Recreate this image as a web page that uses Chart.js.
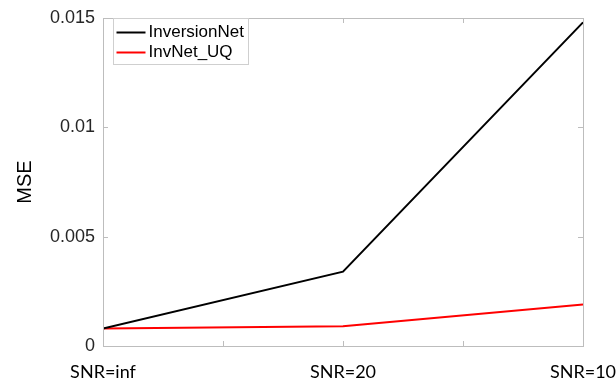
<!DOCTYPE html>
<html>
<head>
<meta charset="utf-8">
<script src="https://cdn.jsdelivr.net/npm/chart.js@4"></script>
<style>
  html, body { margin: 0; padding: 0; background: #fff; }
  #wrap { width: 616px; height: 389px; }
</style>
</head>
<body>
<div id="wrap"><canvas id="mseChart"></canvas></div>
<script>
// MSE per noise level
const snrLabels = ["SNR=inf", "SNR=20", "SNR=10"];
const inversionNet = [0.0008, 0.0034, 0.0148];
const invNetUQ = [0.0008, 0.0009, 0.0019];
const yTicks = [0, 0.005, 0.01, 0.015];

const axisGray = "#bdbdbd";
const textGray = "#262626";

function toPoints(values) {
    return values.map(function (v, i) {
        return { x: i + 1, y: v };
    });
}

// box around the plot with short inward tick marks, plus the boxed legend
const frameAndLegend = {
    id: "frameAndLegend",
    afterDatasetsDraw: function (chart) {
        const ctx = chart.ctx;
        const a = chart.chartArea;
        const xs = chart.scales.x;
        const ys = chart.scales.y;
        const tl = 5;
        ctx.save();
        ctx.strokeStyle = axisGray;
        ctx.lineWidth = 1;
        ctx.strokeRect(Math.round(a.left) + 0.5, Math.round(a.top) + 0.5,
            Math.round(a.right - a.left), Math.round(a.bottom - a.top));
        ctx.beginPath();
        xs.ticks.forEach(function (t) {
            const px = Math.round(xs.getPixelForValue(t.value)) + 0.5;
            ctx.moveTo(px, a.bottom);
            ctx.lineTo(px, a.bottom - tl);
            ctx.moveTo(px, a.top);
            ctx.lineTo(px, a.top + tl);
        });
        ys.ticks.forEach(function (t) {
            const py = Math.round(ys.getPixelForValue(t.value)) + 0.5;
            ctx.moveTo(a.left, py);
            ctx.lineTo(a.left + tl, py);
            ctx.moveTo(a.right, py);
            ctx.lineTo(a.right - tl, py);
        });
        ctx.stroke();

        // legend
        const bx = a.left + 10.5, by = a.top + 0.5, bw = 135, bh = 46;
        ctx.fillStyle = "#fff";
        ctx.fillRect(bx, by, bw, bh);
        ctx.strokeStyle = "#cfcfcf";
        ctx.strokeRect(bx, by, bw, bh);
        ctx.font = "17px 'Liberation Sans', Arial, sans-serif";
        ctx.textBaseline = "middle";
        ctx.textAlign = "left";
        chart.data.datasets.forEach(function (ds, i) {
            const cy = by + 14 + i * 20;
            ctx.strokeStyle = ds.borderColor;
            ctx.lineWidth = 2;
            ctx.beginPath();
            ctx.moveTo(bx + 3, cy);
            ctx.lineTo(bx + 32, cy);
            ctx.stroke();
            ctx.fillStyle = "#000";
            ctx.fillText(ds.label, bx + 35, cy);
        });
        ctx.restore();
    }
};

new Chart(document.getElementById("mseChart"), {
    type: "line",
    data: {
        datasets: [
            {
                label: "InversionNet",
                data: toPoints(inversionNet),
                borderColor: "#000000",
                borderWidth: 2,
                pointRadius: 0,
                tension: 0,
            },
            {
                label: "InvNet_UQ",
                data: toPoints(invNetUQ),
                borderColor: "#ff0000",
                borderWidth: 2,
                pointRadius: 0,
                tension: 0,
            },
        ],
    },
    options: {
        responsive: true,
        maintainAspectRatio: false,
        animation: false,
        layout: { padding: { left: 0, right: 33, top: 18, bottom: 0 } },
        plugins: {
            legend: { display: false },
            tooltip: { enabled: false },
        },
        scales: {
            x: {
                type: "linear",
                min: 1,
                max: 3,
                border: { display: false },
                grid: { display: false, drawTicks: false },
                ticks: {
                    stepSize: 0.5,
                    autoSkip: false,
                    maxRotation: 0,
                    padding: 15,
                    color: "#000",
                    font: { family: "Lato, 'Open Sans', sans-serif", size: 18 },
                    callback: function (value) {
                        return Number.isInteger(value) ? snrLabels[value - 1] : "";
                    },
                },
                afterFit: function (scale) {
                    scale.height = 43;
                    scale.paddingLeft = 0;
                    scale.paddingRight = 0;
                },
            },
            y: {
                min: 0,
                max: 0.015,
                border: { display: false },
                grid: { display: false, drawTicks: false },
                afterBuildTicks: function (scale) {
                    scale.ticks = yTicks.map(function (v) { return { value: v }; });
                },
                ticks: {
                    padding: 8,
                    color: textGray,
                    font: { family: "'Liberation Sans', Arial, sans-serif", size: 18 },
                    callback: function (value) { return String(value); },
                },
                title: {
                    display: true,
                    text: "MSE",
                    color: "#000",
                    padding: { top: 13, bottom: 0 },
                    font: { family: "'Liberation Sans', Arial, sans-serif", size: 20 },
                },
                afterFit: function (scale) {
                    scale.width = 103;
                    scale.paddingTop = 0;
                    scale.paddingBottom = 0;
                },
            },
        },
    },
    plugins: [frameAndLegend],
});
</script>
</body>
</html>
